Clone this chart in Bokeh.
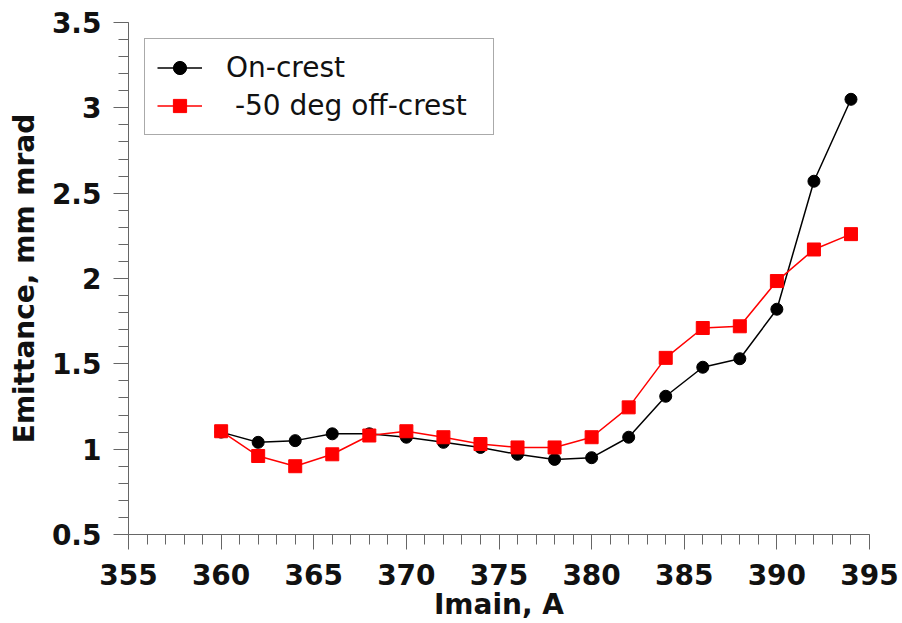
from bokeh.plotting import figure
from bokeh.models import Range1d, FixedTicker, CustomJSTickFormatter, Legend, LegendItem
from bokeh.embed import file_html
from bokeh.resources import INLINE

# Data
imain = [360, 362, 364, 366, 368, 370, 372, 374, 376, 378, 380, 382, 384, 386, 388, 390, 392, 394]
on_crest = [1.10, 1.04, 1.05, 1.09, 1.09, 1.07, 1.04, 1.01, 0.97, 0.94, 0.95, 1.07, 1.31, 1.48, 1.53, 1.82, 2.57, 3.05]
off_crest = [1.105, 0.96, 0.90, 0.97, 1.08, 1.105, 1.07, 1.03, 1.01, 1.01, 1.07, 1.245, 1.535, 1.71, 1.72, 1.985, 2.17, 2.26]
series_names = ["On-crest", " -50 deg off-crest"]
x_ticks = [355, 360, 365, 370, 375, 380, 385, 390, 395]
y_ticks = [0.5, 1.0, 1.5, 2.0, 2.5, 3.0, 3.5]

FONT = "DejaVu Sans"

p = figure(width=902, height=623, output_backend="svg", toolbar_location=None,
           x_range=Range1d(355, 395), y_range=Range1d(0.5, 3.5),
           min_border_left=128, min_border_right=33, min_border_top=22, min_border_bottom=85)
p.outline_line_color = None
p.grid.visible = False
p.background_fill_color = "white"
p.border_fill_color = "white"

l1 = p.line(imain, on_crest, line_color="black", line_width=1.5)
s1 = p.scatter(imain, on_crest, marker="circle", size=12, fill_color="black", line_color="black")
l2 = p.line(imain, off_crest, line_color="red", line_width=1.5)
s2 = p.scatter(imain, off_crest, marker="square", size=13, fill_color="red", line_color="red")
p.renderers = [l1, s1, l2, s2]

fmt = CustomJSTickFormatter(code="return tick.toString();")

for ax, ticks, minor in ((p.xaxis[0], x_ticks, [v for v in range(355, 396)]),
                         (p.yaxis[0], y_ticks, [round(0.5 + 0.1 * i, 2) for i in range(31)])):
    ax.ticker = FixedTicker(ticks=ticks, minor_ticks=minor)
    ax.formatter = fmt
    ax.axis_line_color = "#666666"
    ax.axis_line_width = 1
    ax.major_tick_line_color = "#666666"
    ax.minor_tick_line_color = "#666666"
    ax.major_tick_out = 15
    ax.major_tick_in = 0
    ax.minor_tick_out = 10
    ax.minor_tick_in = 0
    ax.major_label_text_font = FONT
    ax.major_label_text_font_style = "bold"
    ax.major_label_text_font_size = "28px"
    ax.major_label_text_color = "#111111"
    ax.axis_label_text_font = FONT
    ax.axis_label_text_font_style = "bold"
    ax.axis_label_text_font_size = "28px"
    ax.axis_label_text_color = "#111111"

p.xaxis.axis_label = "Imain, A"
p.yaxis.axis_label = "Emittance, mm mrad"
p.xaxis.major_label_standoff = 14
p.xaxis.axis_label_standoff = 0
p.yaxis.major_label_standoff = 12
p.yaxis.axis_label_standoff = 8

legend = Legend(items=[LegendItem(label=series_names[0], renderers=[l1, s1]),
                       LegendItem(label=series_names[1], renderers=[l2, s2])],
                location="top_left", margin=16, padding=12, spacing=5,
                glyph_width=45, glyph_height=33, label_standoff=24, label_width=255,
                label_text_font=FONT, label_text_font_size="28px", label_text_color="#111111",
                border_line_color="#555555", border_line_width=1,
                background_fill_color="white", background_fill_alpha=1.0)
p.add_layout(legend)

open("out.html", "w").write(file_html(p, INLINE))
